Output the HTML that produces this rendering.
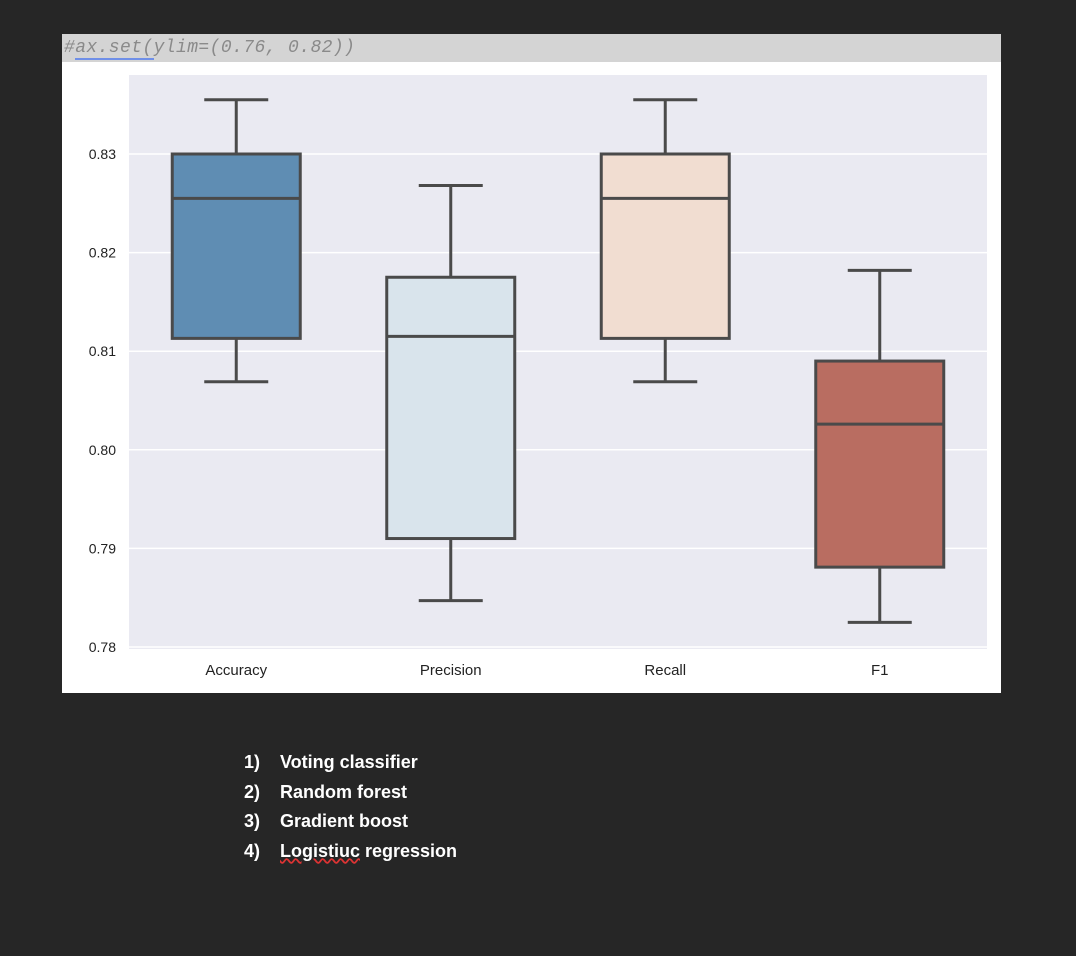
<!DOCTYPE html>
<html><head><meta charset="utf-8"><style>
body{margin:0;width:1076px;height:956px;background:#262626;position:relative;overflow:hidden;font-family:"Liberation Sans",sans-serif}
#bar{position:absolute;left:62px;top:34px;width:939px;height:28px;background:#d4d4d4;font-family:"Liberation Mono",monospace;font-style:italic;color:#8a8a8a;font-size:18px;line-height:29px;padding-left:2px;box-sizing:border-box;letter-spacing:0.4px}
#panel{position:absolute;left:62px;top:62px;width:939px;height:631px;background:#fff}
#list{position:absolute;left:244px;top:748px;color:#fff;font-size:18px;line-height:29.5px;font-weight:bold}
#list span{display:inline-block;width:36px}
</style></head><body>
<div id="bar">#<span style="border-bottom:2px solid #6f8fe8">ax.set(</span>ylim=(0.76, 0.82))</div>
<div id="panel">
<svg id="chart" width="939" height="631"></svg>
</div>
<div id="list">
<div><span>1)</span>Voting classifier</div>
<div><span>2)</span>Random forest</div>
<div><span>3)</span>Gradient boost</div>
<div><span>4)</span><u style="text-decoration-color:#d33;text-decoration-style:wavy">Logistiuc</u> regression</div>
</div>
<script>
const categories=["Accuracy","Precision","Recall","F1"];
const whiskerLow=[0.8069,0.7847,0.8069,0.7825];
const q1=[0.8113,0.7910,0.8113,0.7881];
const median=[0.8255,0.8115,0.8255,0.8026];
const q3=[0.8300,0.8175,0.8300,0.8090];
const whiskerHigh=[0.8355,0.8268,0.8355,0.8182];
const yTicks=[0.78,0.79,0.80,0.81,0.82,0.83];
const colors=["#5f8db3","#d9e4ec","#f1ddd1","#b96d61"];
const NS="http://www.w3.org/2000/svg";
const svg=document.getElementById('chart');
const ox=62,oy=62;
const L=129-ox,R=987-ox,T=75-oy,B=649-oy;
function y(v){return (154-oy)+(0.83-v)*9860;}
function x(i){return L+(R-L)*(i+0.5)/categories.length;}
function mk(tag,attrs){const e=document.createElementNS(NS,tag);for(const k in attrs)e.setAttribute(k,attrs[k]);svg.appendChild(e);return e;}
let bg=mk('rect',{x:L,y:T,width:R-L,height:B-T,fill:'#eaeaf2'});


yTicks.forEach(t=>{
  let g=mk('line',{x1:L,x2:R,y1:y(t),y2:y(t),stroke:'#fff','stroke-width':1.5});
  
  
  let tx=mk('text',{x:L-13,y:y(t)+5,'text-anchor':'end','font-size':14,fill:'#222'});
  tx.textContent=t.toFixed(2);
  
  
});
const bw=128,cw=64,lc='#4a4a4a',lw=3;
categories.forEach((c,i)=>{
  const cx=x(i);
  let w1=mk('line',{x1:cx,x2:cx,y1:y(whiskerHigh[i]),y2:y(q3[i]),stroke:lc,'stroke-width':lw});
  
  
  let w2=mk('line',{x1:cx,x2:cx,y1:y(q1[i]),y2:y(whiskerLow[i]),stroke:lc,'stroke-width':lw});
  
  
  let c1=mk('line',{x1:cx-cw/2,x2:cx+cw/2,y1:y(whiskerHigh[i]),y2:y(whiskerHigh[i]),stroke:lc,'stroke-width':lw});
  
  
  let c2=mk('line',{x1:cx-cw/2,x2:cx+cw/2,y1:y(whiskerLow[i]),y2:y(whiskerLow[i]),stroke:lc,'stroke-width':lw});
  
  
  let b=mk('rect',{x:cx-bw/2,y:y(q3[i]),width:bw,height:y(q1[i])-y(q3[i]),fill:colors[i],stroke:lc,'stroke-width':lw});
  
  
  let m=mk('line',{x1:cx-bw/2,x2:cx+bw/2,y1:y(median[i]),y2:y(median[i]),stroke:lc,'stroke-width':lw});
  
  
  let t=mk('text',{x:cx,y:B+26,'text-anchor':'middle','font-size':15,fill:'#222'});
  t.textContent=c;
  
  
});
</script>
</body></html>
